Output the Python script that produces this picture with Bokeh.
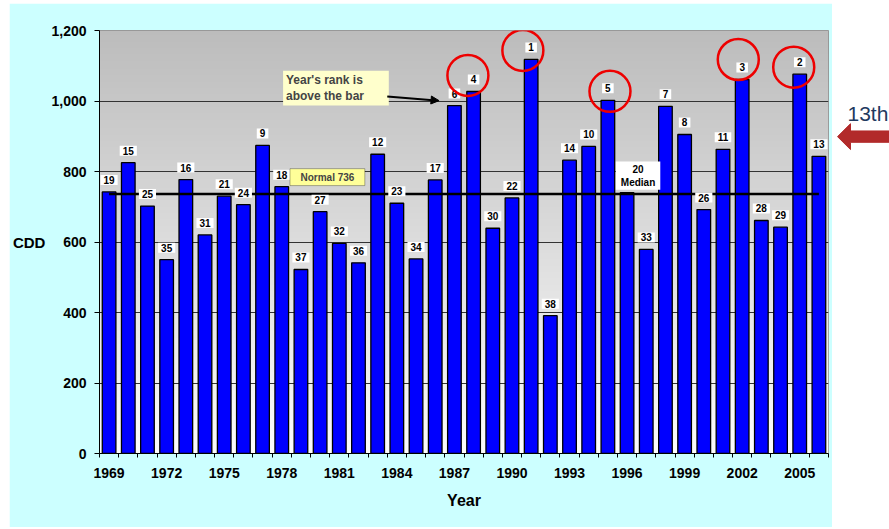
import numpy as np
from bokeh.plotting import figure
from bokeh.models import (Range1d, FixedTicker, NumeralTickFormatter, ColumnDataSource,
                          BoxAnnotation, Label, Arrow, NormalHead)
from bokeh.layouts import row
from bokeh.embed import file_html
from bokeh.resources import INLINE
from bokeh.core.properties import value

# ---------------- data ----------------
years = list(range(1969, 2007))
cdd = [742, 825, 702, 550, 777, 620, 730, 706, 874, 757,
       522, 686, 596, 541, 849, 710, 552, 776, 987, 1027,
       639, 725, 1118, 391, 832, 871, 1002, 740, 579, 985,
       905, 692, 863, 1061, 661, 642, 1076, 843]
ranks = [19, 15, 25, 35, 16, 31, 21, 24, 9, 18,
         37, 27, 32, 36, 12, 23, 34, 17, 6, 4,
         30, 22, 1, 38, 14, 10, 5, 20, 33, 7,
         8, 26, 11, 3, 28, 29, 2, 13]
normal_cdd = 736
median_year = 1996
tick_years = [1969, 1972, 1975, 1978, 1981, 1984, 1987, 1990, 1993, 1996, 1999, 2002, 2005]
y_ticks = [0, 200, 400, 600, 800, 1000, 1200]
circled_years = [1988, 1991, 1995, 2002, 2005]

FONT = "Liberation Sans"
PX_PER_UNIT = 423 / 1200.0
PX_PER_YEAR = 730.7 / 38.0

p = figure(width=823, height=524, x_range=Range1d(1968.5, 2006.5), y_range=Range1d(0, 1200),
           toolbar_location=None, output_backend="svg",
           min_border_left=88, min_border_right=4, min_border_top=27, min_border_bottom=74)
p.margin = (3, 0, 0, 9)
p.border_fill_color = "#CCFFFF"
p.background_fill_color = "#FFFFFF"
p.outline_line_color = "#8C8C8C"

# vertical gradient background of the plot area
n = 200
t = np.linspace(0.0, 1.0, n)
g = np.round(252 - (252 - 188) * t).astype(np.uint8)
img = np.zeros((n, 2), dtype=np.uint32)
view = img.view(dtype=np.uint8).reshape((n, 2, 4))
view[:, :, 0] = g[:, None]
view[:, :, 1] = g[:, None]
view[:, :, 2] = g[:, None]
view[:, :, 3] = 255
p.image_rgba(image=[img], x=1968.5, y=0, dw=38, dh=1200, level="image")

# bars
p.vbar(x=years, top=cdd, width=0.71, fill_color="#0000FF", line_color="black", line_width=1.3)

# normal line
p.line([years[0], years[-1]], [normal_cdd, normal_cdd], line_color="black", line_width=2.6)

# rank labels
lab_x = [y for y in years if y != median_year]
lab_y = [v for y, v in zip(years, cdd) if y != median_year]
lab_t = [str(r) for y, r in zip(years, ranks) if y != median_year]
src = ColumnDataSource(dict(x=lab_x, y=lab_y, text=lab_t))
p.text(x="x", y="y", text="text", source=src, text_font=value(FONT), text_font_style="bold",
       text_font_size="10px", text_color="black", text_align="center", text_baseline="middle",
       y_offset=-12, background_fill_color="white", padding=(3, 1))

mi = years.index(median_year)
p.text(x=[median_year], y=[cdd[mi]],
       text=[f"{ranks[mi]}\nMedian"], text_font=value(FONT), text_font_style="bold",
       text_font_size="10px", text_color="black", text_align="center", text_baseline="middle",
       x_offset=11, y_offset=-17, background_fill_color="white", padding=(5, 2))

# red circles around top five
circ_dx = [-5.7, -8.3, 2.1, -3.9, -6.0]   # px
circ_dy = [16, 9, 9, 20, 7]               # px above bar top
cx, cy = [], []
for yr, dx, dy in zip(circled_years, circ_dx, circ_dy):
    cx.append(yr + dx / PX_PER_YEAR)
    cy.append(cdd[years.index(yr)] + dy / PX_PER_UNIT)
p.scatter(x=cx, y=cy, size=41, marker="circle", fill_alpha=0, line_color="#EE0000", line_width=2.5)

# annotation boxes
p.add_layout(BoxAnnotation(left=1978.43, right=1982.33, bottom=760, top=808,
                           fill_color="#FFFF99", fill_alpha=1, line_color="black", line_width=1))
p.add_layout(Label(x=1980.38, y=784, text="Normal 736", text_font=FONT, text_font_style="bold",
                   text_font_size="10px", text_align="center", text_baseline="middle"))
p.add_layout(BoxAnnotation(left=1978.07, right=1983.58, bottom=987, top=1086,
                           fill_color="#FFFFCC", fill_alpha=1, line_color=None))
p.add_layout(Label(x=1978.22, y=1037, text="Year's rank is\nabove the bar", text_font=FONT,
                   text_font_style="bold", text_font_size="12px", text_align="left",
                   text_baseline="middle"))
p.add_layout(Arrow(end=NormalHead(size=8, fill_color="black", line_color="black"),
                   x_start=1983.5, y_start=1013, x_end=1986.2, y_end=1001,
                   line_color="black", line_width=2))

# axes
p.xgrid.visible = False
p.ygrid.ticker = FixedTicker(ticks=y_ticks)
p.ygrid.grid_line_color = "#333333"
p.ygrid.grid_line_width = 1

xa = p.xaxis[0]
xa.ticker = FixedTicker(ticks=tick_years, minor_ticks=[y - 0.5 for y in years] + [years[-1] + 0.5])
xa.major_tick_in = 0
xa.major_tick_out = 0
xa.minor_tick_in = 0
xa.minor_tick_out = 4
xa.minor_tick_line_color = "black"
xa.axis_line_color = "black"
xa.major_label_standoff = 10
xa.major_label_text_font = FONT
xa.major_label_text_font_style = "bold"
xa.major_label_text_font_size = "14px"
xa.major_label_text_color = "black"
xa.axis_label = "Year"
xa.axis_label_text_font = FONT
xa.axis_label_text_font_style = "bold"
xa.axis_label_text_font_size = "16px"
xa.axis_label_text_color = "black"
xa.axis_label_standoff = 11

ya = p.yaxis[0]
ya.ticker = FixedTicker(ticks=y_ticks)
ya.formatter = NumeralTickFormatter(format="0,0")
ya.major_tick_in = 0
ya.major_tick_out = 5
ya.minor_tick_line_color = None
ya.axis_line_color = "black"
ya.major_label_standoff = 8
ya.major_label_text_font = FONT
ya.major_label_text_font_style = "bold"
ya.major_label_text_font_size = "14px"
ya.major_label_text_color = "black"
ya.axis_label = "CDD"
ya.axis_label_text_font = FONT
ya.axis_label_text_font_style = "bold"
ya.axis_label_text_font_size = "15px"
ya.axis_label_text_color = "black"
ya.axis_label_standoff = 3
try:
    ya.axis_label_orientation = "horizontal"
except Exception:
    pass

# side panel with "13th" and arrow
p2 = figure(width=57, height=527, x_range=Range1d(0, 57), y_range=Range1d(527, 0),
            toolbar_location=None, output_backend="svg", min_border=0,
            x_axis_location=None, y_axis_location=None)
p2.outline_line_color = None
p2.grid.visible = False
p2.background_fill_color = "white"
p2.border_fill_color = "white"
p2.text(x=[15], y=[106], text=["13th"], text_font=value(FONT), text_font_size="21px",
        text_color="#1F3A5F", text_align="left", text_baseline="middle")
p2.patch(x=[5, 18, 18, 57, 57, 18, 18], y=[135, 119, 128, 128, 142, 142, 151],
         fill_color="#B22A2A", line_color="#B22A2A")

layout = row(p, p2)
open("out.html", "w").write(file_html(layout, INLINE))
